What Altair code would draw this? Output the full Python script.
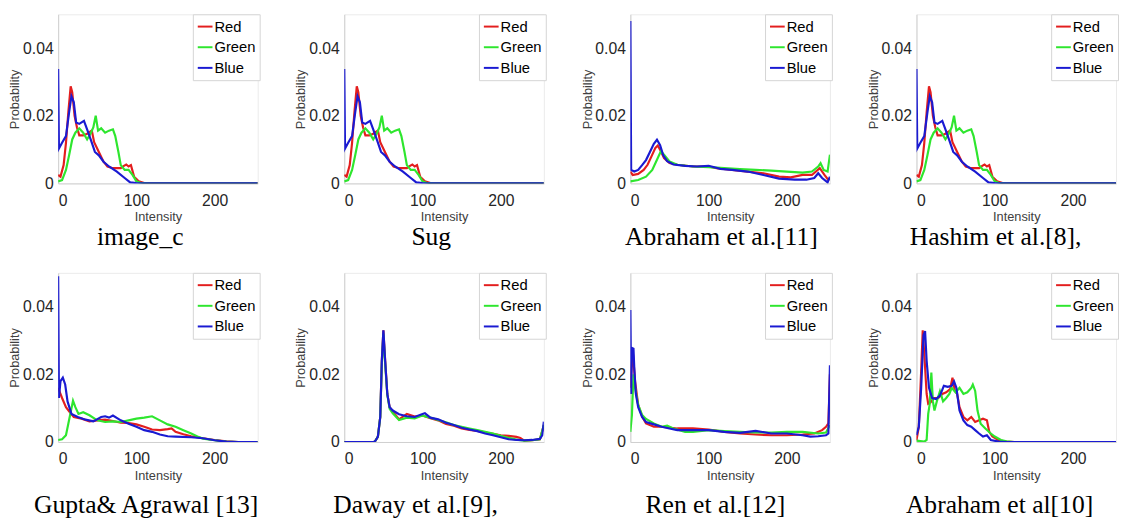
import altair as alt
import pandas as pd

CHANNELS = ["Red", "Green", "Blue"]
COLORS = ["#e31e1e", "#2ee62e", "#1a1ad2"]

# ---- image_c (also Sug and Hashim et al., which look identical) ----
IMGC_RED = [(0, 0.0025), (3, 0.002), (7, 0.0054), (10, 0.012), (13, 0.021), (16, 0.0287), (18, 0.027),
            (21, 0.020), (24, 0.0166), (27, 0.0142), (32, 0.0142), (37, 0.0147), (43, 0.0156), (46, 0.0122),
            (52, 0.0093), (58, 0.0064), (63, 0.005), (70, 0.0045), (80, 0.0045), (84, 0.0052), (87, 0.0056),
            (90, 0.005), (93, 0.0054), (97, 0.002), (103, 0.0006), (110, 0.0001), (120, 0), (255, 0)]
IMGC_GREEN = [(0, 0.0006), (5, 0.001), (10, 0.004), (14, 0.0083), (18, 0.013), (22, 0.015), (27, 0.0163),
              (32, 0.015), (37, 0.013), (42, 0.015), (45, 0.0166), (48, 0.020), (51, 0.0156), (55, 0.0163),
              (60, 0.015), (65, 0.0156), (70, 0.016), (73, 0.014), (77, 0.0093), (80, 0.0054), (85, 0.004),
              (90, 0.004), (95, 0.0025), (100, 0.0006), (105, 0.0002), (115, 0), (255, 0)]
IMGC_BLUE = [(0, 0.0338), (1, 0.0103), (5, 0.012), (10, 0.014), (14, 0.021), (17, 0.0258), (20, 0.024),
             (23, 0.018), (27, 0.0176), (33, 0.0185), (37, 0.016), (42, 0.0127), (47, 0.0093), (52, 0.0083),
             (58, 0.0064), (65, 0.005), (75, 0.0035), (85, 0.0016), (92, 0.0003), (100, 0.0001), (110, 0), (255, 0)]

# ---- Abraham et al.[11] ----
A11_RED = [(0, 0.0035), (3, 0.0025), (10, 0.0028), (17, 0.004), (22, 0.0055), (27, 0.008), (32, 0.0105),
           (35, 0.0112), (39, 0.0095), (43, 0.0075), (50, 0.006), (60, 0.0055), (80, 0.005), (100, 0.005),
           (110, 0.0045), (130, 0.004), (150, 0.0035), (170, 0.003), (190, 0.002), (205, 0.0018), (220, 0.0025),
           (232, 0.0025), (242, 0.0045), (248, 0.0025), (253, 0.001), (255, 0.0015)]
A11_GREEN = [(0, 0.0006), (10, 0.001), (20, 0.002), (28, 0.004), (34, 0.007), (39, 0.0095), (43, 0.0085),
             (50, 0.0065), (60, 0.0055), (80, 0.005), (100, 0.0048), (120, 0.0045), (140, 0.0042), (160, 0.004),
             (180, 0.0038), (200, 0.0035), (220, 0.0032), (232, 0.0035), (240, 0.005), (243, 0.006), (247, 0.004),
             (252, 0.0035), (255, 0.0085)]
A11_BLUE = [(0, 0.048), (1, 0.004), (5, 0.0035), (10, 0.004), (15, 0.0054), (20, 0.0069), (25, 0.0093),
            (30, 0.0117), (34, 0.0129), (38, 0.0113), (42, 0.0083), (47, 0.0066), (55, 0.0056), (70, 0.0052),
            (85, 0.005), (100, 0.0052), (115, 0.0043), (130, 0.004), (150, 0.0035), (170, 0.0025), (190, 0.0014),
            (210, 0.0011), (225, 0.0011), (235, 0.0016), (240, 0.003), (245, 0.0016), (252, 0.0003), (255, 0.002)]

# ---- Gupta& Agrawal [13] ----
G_RED = [(0, 0.016), (5, 0.013), (10, 0.0103), (15, 0.0088), (20, 0.0074), (30, 0.0069), (40, 0.0061),
         (50, 0.0064), (60, 0.0066), (70, 0.0062), (80, 0.0057), (90, 0.0056), (100, 0.0052), (110, 0.0045),
         (120, 0.0037), (130, 0.0035), (140, 0.0038), (145, 0.004), (150, 0.003), (160, 0.0023), (170, 0.0017),
         (185, 0.0011), (200, 0.0006), (215, 0.0002), (230, 0), (255, 0)]
G_GREEN = [(0, 0.0006), (5, 0.0008), (10, 0.002), (13, 0.0054), (16, 0.0088), (19, 0.0122), (22, 0.0103),
           (26, 0.0083), (32, 0.0088), (40, 0.0079), (50, 0.0064), (60, 0.0059), (70, 0.0061), (80, 0.0059),
           (90, 0.0064), (100, 0.0069), (110, 0.0072), (120, 0.0076), (130, 0.0064), (140, 0.0052), (150, 0.0045),
           (160, 0.0035), (170, 0.0025), (178, 0.0016), (185, 0.001), (200, 0.0005), (215, 0.0001), (230, 0), (255, 0)]
G_BLUE = [(0, 0.049), (1, 0.013), (3, 0.018), (6, 0.019), (9, 0.017), (12, 0.012), (17, 0.0083), (25, 0.0074),
          (35, 0.0066), (45, 0.0061), (55, 0.0074), (60, 0.0076), (65, 0.0072), (70, 0.0078), (80, 0.0064),
          (90, 0.0054), (100, 0.0045), (110, 0.0035), (120, 0.003), (130, 0.0022), (140, 0.0017), (150, 0.0016),
          (170, 0.0014), (185, 0.0011), (200, 0.0005), (215, 0.0001), (230, 0), (255, 0)]

# ---- Daway et al.[9] ----
D_RED = [(0, 0), (38, 0), (40, 0.0004), (43, 0.0016), (46, 0.0074), (48, 0.024), (50, 0.033), (52, 0.025),
         (55, 0.0142), (58, 0.0103), (62, 0.009), (70, 0.0067), (80, 0.0083), (90, 0.0075), (100, 0.0078),
         (110, 0.007), (120, 0.0064), (130, 0.0053), (140, 0.0048), (150, 0.004), (160, 0.0036), (170, 0.0033),
         (180, 0.0028), (190, 0.0024), (200, 0.002), (210, 0.0018), (220, 0.0015), (225, 0.0012), (230, 0.0004),
         (240, 0.0005), (250, 0.0008), (255, 0.005)]
D_GREEN = [(0, 0), (38, 0), (40, 0.0004), (43, 0.0016), (46, 0.0074), (48, 0.023), (50, 0.032), (52, 0.024),
           (55, 0.014), (58, 0.0098), (62, 0.0085), (70, 0.0065), (80, 0.0072), (90, 0.007), (100, 0.0078),
           (110, 0.0072), (120, 0.0065), (130, 0.0058), (140, 0.005), (150, 0.0045), (160, 0.004), (170, 0.0035),
           (180, 0.003), (190, 0.0025), (200, 0.0018), (210, 0.0012), (220, 0.0007), (230, 0.0004), (240, 0.0005),
           (250, 0.0008), (255, 0.005)]
D_BLUE = [(0, 0), (38, 0), (40, 0.0004), (43, 0.0016), (46, 0.0074), (48, 0.024), (50, 0.033), (52, 0.025),
          (55, 0.0142), (58, 0.0103), (62, 0.0093), (70, 0.0082), (80, 0.0076), (90, 0.0074), (100, 0.0083),
          (103, 0.0085), (110, 0.0072), (120, 0.0067), (130, 0.0057), (140, 0.005), (150, 0.0042), (160, 0.0037),
          (170, 0.0032), (180, 0.0025), (190, 0.002), (200, 0.0014), (210, 0.0008), (220, 0.0006), (230, 0.0005),
          (240, 0.0006), (250, 0.0009), (253, 0.002), (255, 0.006)]

# ---- Ren et al.[12] ----
R_RED = [(0, 0.016), (3, 0.027), (6, 0.018), (10, 0.011), (15, 0.0075), (20, 0.0055), (30, 0.0045), (40, 0.0045),
         (60, 0.004), (80, 0.004), (100, 0.0037), (120, 0.003), (140, 0.0025), (160, 0.0022), (180, 0.002),
         (200, 0.002), (220, 0.0022), (235, 0.0025), (245, 0.0035), (250, 0.0045), (253, 0.0055), (255, 0.02)]
R_GREEN = [(0, 0.003), (2, 0.008), (4, 0.020), (6, 0.016), (10, 0.011), (15, 0.008), (20, 0.0068), (30, 0.0055),
           (40, 0.0045), (47, 0.0048), (55, 0.004), (70, 0.003), (80, 0.003), (100, 0.0035), (120, 0.0032),
           (140, 0.003), (160, 0.0028), (180, 0.0028), (200, 0.003), (220, 0.003), (240, 0.0025), (250, 0.0028),
           (255, 0.005)]
R_BLUE = [(0, 0.039), (1, 0.0142), (2, 0.0278), (4, 0.0276), (5, 0.022), (7, 0.0142), (10, 0.0103), (15, 0.0074),
          (20, 0.0059), (30, 0.0052), (40, 0.0045), (50, 0.004), (60, 0.0035), (80, 0.0035), (100, 0.0035),
          (120, 0.003), (140, 0.0027), (160, 0.0033), (180, 0.0025), (200, 0.0025), (220, 0.002), (230, 0.0016),
          (240, 0.0017), (250, 0.002), (253, 0.0025), (255, 0.0227)]

# ---- Abraham et al[10] ----
A10_RED = [(0, 0.0005), (3, 0.0045), (6, 0.021), (8, 0.033), (10, 0.026), (13, 0.0142), (15, 0.0113),
           (18, 0.0117), (22, 0.013), (28, 0.013), (33, 0.0142), (38, 0.0147), (43, 0.0156), (46, 0.019),
           (49, 0.0151), (52, 0.0142), (55, 0.0103), (60, 0.0074), (65, 0.0064), (70, 0.0074), (75, 0.0059),
           (80, 0.0064), (85, 0.0069), (90, 0.0064), (93, 0.003), (97, 0.0016), (105, 0.0005), (115, 0.0001),
           (125, 0), (255, 0)]
A10_GREEN = [(0, 0.0004), (10, 0.0001), (13, 0.0006), (15, 0.0083), (17, 0.0113), (19, 0.0205), (21, 0.012),
             (23, 0.0093), (26, 0.012), (30, 0.015), (34, 0.012), (38, 0.013), (42, 0.0142), (45, 0.016),
             (50, 0.0147), (55, 0.016), (60, 0.0142), (65, 0.0147), (70, 0.016), (72, 0.017), (75, 0.0151),
             (78, 0.0093), (82, 0.0054), (88, 0.004), (95, 0.0025), (100, 0.0016), (108, 0.0006), (115, 0.0002),
             (125, 0), (255, 0)]
A10_BLUE = [(0, 0.002), (3, 0.0045), (6, 0.016), (9, 0.0316), (11, 0.0328), (13, 0.024), (16, 0.016), (20, 0.013),
            (25, 0.0127), (30, 0.0137), (35, 0.0166), (40, 0.0163), (45, 0.0166), (48, 0.0179), (51, 0.016),
            (55, 0.0093), (60, 0.0064), (65, 0.005), (70, 0.0045), (75, 0.0035), (80, 0.0025), (85, 0.0016),
            (90, 0.002), (95, 0.0006), (105, 0.0001), (115, 0), (255, 0)]

CAPTIONS = ["image_c", "Sug", "Abraham et al.[11]", "Hashim et al.[8],",
            "Gupta& Agrawal [13]", "Daway et al.[9],", "Ren et al.[12]", "Abraham et al[10]"]
SERIES = [
    (IMGC_RED, IMGC_GREEN, IMGC_BLUE),
    (IMGC_RED, IMGC_GREEN, IMGC_BLUE),
    (A11_RED, A11_GREEN, A11_BLUE),
    (IMGC_RED, IMGC_GREEN, IMGC_BLUE),
    (G_RED, G_GREEN, G_BLUE),
    (D_RED, D_GREEN, D_BLUE),
    (R_RED, R_GREEN, R_BLUE),
    (A10_RED, A10_GREEN, A10_BLUE),
]

# layout only (caption horizontal shift, per-row caption offset)
CAPTION_DX = [-18, -13, -9, -21, -12, -29, -15, -17]
ROW_CAPTION_OFFSET = [1, 10]

PLOT_W, PLOT_H = 203, 172


def make_panel(idx):
    rows = []
    for k, (ch, pts) in enumerate(zip(CHANNELS, SERIES[idx])):
        for i, p in pts:
            rows.append({"Intensity": i, "Probability": p, "Channel": ch, "k": k})
    df = pd.DataFrame(rows)
    title = alt.TitleParams(
        CAPTIONS[idx], orient="bottom", anchor="middle", frame="group",
        dx=CAPTION_DX[idx], offset=ROW_CAPTION_OFFSET[idx // 4],
        font="Liberation Serif", fontSize=26, fontWeight="normal", color="black",
    )
    return alt.Chart(df, title=title).mark_line(strokeWidth=2.2, clip=True).encode(
        x=alt.X("Intensity:Q", scale=alt.Scale(domain=[0, 255], nice=False, zero=False),
                axis=alt.Axis(values=[0, 100, 200], title="Intensity")),
        y=alt.Y("Probability:Q", scale=alt.Scale(domain=[0, 0.05], nice=False),
                axis=alt.Axis(values=[0, 0.02, 0.04], title="Probability",
                              labelExpr="datum.value == 0 ? '0' : format(datum.value, '.2f')")),
        color=alt.Color("Channel:N", scale=alt.Scale(domain=CHANNELS, range=COLORS),
                        legend=alt.Legend(title=None, orient="none", legendX=PLOT_W - 66, legendY=0)),
        order=alt.Order("k:Q"),
    ).properties(width=PLOT_W, height=PLOT_H)


row1 = alt.hconcat(*[make_panel(i) for i in range(4)], spacing=34).resolve_legend(color="independent")
row2 = alt.hconcat(*[make_panel(i) for i in range(4, 8)], spacing=34).resolve_legend(color="independent")

chart = alt.vconcat(row1, row2, spacing=21).resolve_legend(color="independent").properties(
    padding={"left": 0, "top": 1, "right": 0, "bottom": 0}
).configure_axis(
    labelFont="Liberation Sans", labelFontSize=16, labelColor="#262626",
    titleFont="Liberation Sans", titleFontSize=13, titleFontWeight="normal", titleColor="#404040",
    ticks=False, grid=False, domainColor="#cfcfcf", domainWidth=1,
).configure_axisY(
    labelPadding=5, minExtent=33, maxExtent=33, titlePadding=4,
).configure_axisX(
    labelPadding=9, titlePadding=3,
).configure_view(
    stroke="#ebebeb",
).configure_legend(
    labelFont="Liberation Sans", labelFontSize=15, labelColor="black",
    symbolType="stroke", symbolSize=225, symbolStrokeWidth=2,
    padding=4, rowPadding=4, strokeColor="#d4d4d4", fillColor="white",
    labelOffset=1, cornerRadius=0,
)

chart.save("out.html", embed_options={"renderer": "svg", "actions": False})
